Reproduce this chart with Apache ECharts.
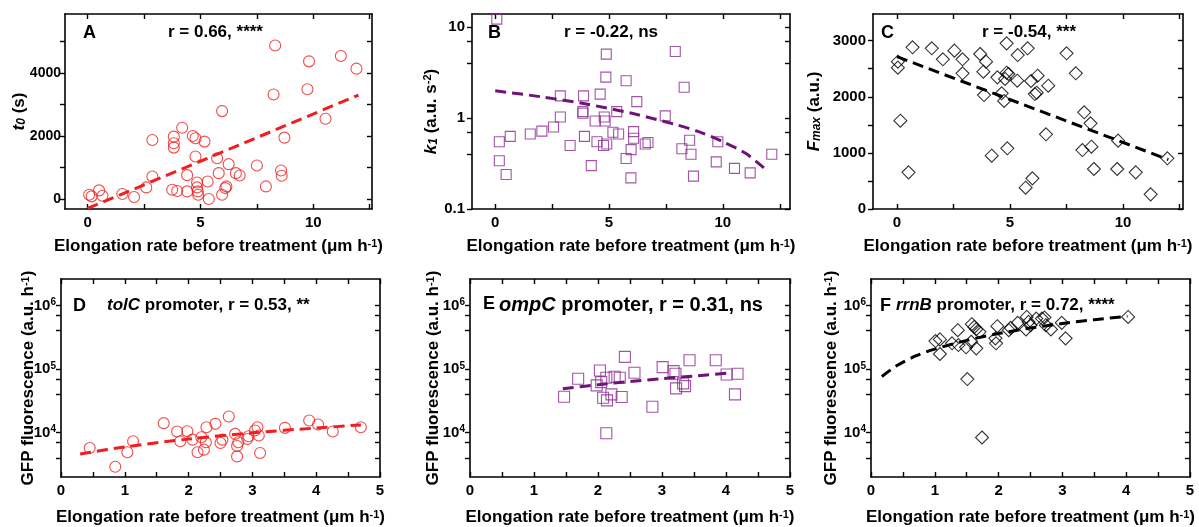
<!DOCTYPE html>
<html><head><meta charset="utf-8">
<script src="https://cdn.jsdelivr.net/npm/echarts@6/dist/echarts.min.js"></script>
<style>html,body{margin:0;padding:0;background:#fff}#c{width:1199px;height:527px}</style>
</head><body><div id="c"></div>
<script>
// ---------- DATA ----------
// Panel A: t0 (s) vs elongation rate
const aX = [0.07,0.18,0.51,0.66,1.54,2.06,2.6,2.87,2.87,3.75,3.82,3.82,3.82,3.97,4.19,4.41,4.41,4.66,4.78,4.78,4.85,4.85,4.88,4.9,5.18,5.32,5.37,5.74,5.81,5.96,5.96,6.1,6.15,6.25,6.57,6.74,7.5,7.9,8.24,8.31,8.57,8.6,8.72,9.74,9.81,10.54,11.22,11.91];
const aY = [137,84,274,105,158,63,368,716,1874,295,1980,1769,1632,253,2264,758,242,2000,1927,1348,526,368,242,137,1822,558,0,1295,821,2790,137,347,400,1106,821,748,1064,400,3317,4875,906,737,1948,3485,4370,2548,4538,4138];
const aFitX = [0, 12];
const aFitY = [-300, 3300];
// Panel B: k1 (a.u. s^-2)
const bX = [0.07,0.18,0.18,0.48,0.66,1.54,2.05,2.56,2.86,2.86,3.29,3.88,3.85,3.85,3.92,4.22,4.39,4.47,4.61,4.76,4.79,4.83,4.86,4.88,4.9,5.17,5.34,5.42,5.75,5.75,5.96,5.97,6.08,6.08,6.22,6.59,6.71,7.47,7.91,8.2,8.3,8.54,8.6,8.71,9.78,9.71,10.51,11.2,12.15];
const bY = [12.3,0.55,0.34,0.24,0.63,0.67,0.72,0.80,1.03,1.76,0.50,1.76,1.18,1.13,0.63,0.30,0.93,0.55,1.84,0.50,1.03,0.93,2.83,5.07,0.52,0.70,1.18,0.67,2.58,0.36,0.22,0.45,0.71,0.60,1.52,0.52,0.54,1.06,5.42,0.46,2.19,0.57,0.40,0.23,0.55,0.33,0.28,0.25,0.40];
const bFitX = [0, 2, 4, 6, 8, 9, 10, 11, 11.9];
const bFitY = [2.0, 1.72, 1.43, 1.13, 0.84, 0.70, 0.55, 0.41, 0.27];
// Panel C: Fmax (a.u.)
const cX = [0.04,0.04,0.15,0.51,0.69,1.54,2.03,2.54,2.9,2.9,3.68,3.82,3.94,3.85,4.19,4.44,4.63,4.74,4.78,4.85,4.85,4.88,4.93,5.34,5.32,5.69,5.78,5.93,5.99,6.1,6.18,6.22,6.59,6.69,7.5,7.91,8.2,8.28,8.56,8.6,8.71,9.74,9.78,10.56,11.22,11.96];
const cY = [2625,2519,1574,653,2881,2863,2667,2822,2667,2418,2762,2447,2625,2031,950,2346,2061,1925,2317,2429,2952,1081,2406,2744,2287,380,2863,2281,546,2049,2073,2376,1331,2198,2774,2418,1051,1723,1527,1111,713,713,1218,653,261,903];
const cFitX = [0, 12];
const cFitY = [2715, 880];
// Panel D: tolC promoter
const dX = [0.45,0.85,1.04,1.13,1.61,1.82,1.87,1.98,2.06,2.14,2.2,2.24,2.27,2.28,2.42,2.5,2.53,2.63,2.73,2.76,2.76,2.78,2.92,2.94,3.04,3.08,3.1,3.12,3.51,3.89,4.03,4.26,4.7];
const dY = [5720,2900,4890,7300,14050,10370,7300,10500,7740,4890,8440,5380,7040,12140,13710,6860,7740,17920,9530,6150,4220,7040,7940,8750,10760,12140,8970,4760,11850,15490,13390,10370,12140];
const dFitX = [0.3, 1, 2, 3, 4, 4.7];
const dFitY = [4600, 5950, 7900, 9900, 11800, 13200];
// Panel E: ompC promoter
const eX = [1.47,1.69,1.98,2.03,2.05,2.08,2.13,2.14,2.13,2.21,2.26,2.34,2.37,2.42,2.57,2.85,3.01,3.18,3.21,3.22,3.33,3.36,3.43,3.84,4.01,4.14,4.18];
const eY = [36600,70200,55200,94800,62200,35300,9770,32100,72800,39800,75400,72800,36200,155000,87100,25500,107000,92500,84000,49500,59300,53800,137000,137000,82000,39800,84000];
const eFitX = [1.45, 2, 2.5, 3, 3.5, 4.1];
const eFitY = [49000, 56500, 63500, 70500, 77500, 87000];
// Panel F: rrnB promoter
const fX = [1.01,1.08,1.08,1.27,1.36,1.37,1.49,1.51,1.57,1.58,1.62,1.65,1.65,1.7,1.74,1.95,1.96,1.98,2.16,2.19,2.3,2.43,2.44,2.47,2.5,2.59,2.68,2.72,2.74,2.82,2.99,3.05,4.03];
const fY = [275000,292000,172000,253000,407000,238000,219000,69500,268000,506000,459000,423000,211000,384000,8360,303000,253000,471000,407000,443000,531000,418000,658000,550000,488000,620000,620000,643000,488000,418000,531000,303000,658000];
const fFitX = [0.17, 0.4, 0.7, 1, 1.5, 2, 2.5, 3, 3.5, 4.02];
const fFitY = [76000, 112000, 160000, 205000, 282000, 360000, 440000, 518000, 595000, 675000];

// Tick label values
const topXLabels = [0, 5, 10];
const topXTicks = [0, 2.5, 5, 7.5, 10, 12.5];
const botXLabels = [0, 1, 2, 3, 4, 5];
const botXTicks = [0, 0.5, 1, 1.5, 2, 2.5, 3, 3.5, 4, 4.5, 5];
const aYLabels = [0, 2000, 4000];
const aYTicks = [0, 1000, 2000, 3000, 4000, 5000];
const bYLabels = [0.1, 1, 10];
const bYTicks = [0.1, 0.4, 0.7, 1, 4, 7, 10];
const cYLabels = [0, 1000, 2000, 3000];
const cYTicks = [0, 500, 1000, 1500, 2000, 2500, 3000];
const gfpYLabels = [1e4, 1e5, 1e6];
const gfpYTicks = [4000, 7000, 1e4, 40000, 70000, 1e5, 400000, 700000, 1e6];

// Text
const xName = 'Elongation rate before treatment (μm h{sup|-1})';
const panelTexts = [
  ['A', 'r = 0.66, ****'],
  ['B', 'r = -0.22, ns'],
  ['C', 'r = -0.54, ***'],
  ['D', '{it|tolC} promoter, r = 0.53, **'],
  ['E', '{it|ompC} promoter, r = 0.31, ns'],
  ['F', '{it|rrnB} promoter, r = 0.72, ****']
];
const yNames = [
  '{it|t}{isub|0} (s)',
  '{it|k}{isub|1} (a.u. s{sup|-2})',
  '{it|F}{isub|max} (a.u.)',
  'GFP fluorescence (a.u. h{sup|-1})',
  'GFP fluorescence (a.u. h{sup|-1})',
  'GFP fluorescence (a.u. h{sup|-1})'
];

// ---------- LAYOUT / STYLE ----------
const FONT = '"Liberation Sans", Arial, Helvetica, sans-serif';
const RED = '#f01e1e', PURPLE = '#8a2a8e', PURPLE_LINE = '#6e1478', BLACK = '#000';
function rich(size) {
  return {
    sup: {fontSize: Math.round(size * 0.65), fontWeight: 'bold', fontFamily: FONT, color: '#000', verticalAlign: 'top', padding: [0, 0, 6, 0]},
    isub: {fontSize: Math.round(size * 0.7), fontWeight: 'bold', fontStyle: 'italic', fontFamily: FONT, color: '#000', padding: [6, 0, 0, 0]},
    it: {fontSize: size, fontStyle: 'italic', fontWeight: 'bold', fontFamily: FONT, color: '#000'},
    b: {fontSize: size, fontWeight: 'bold', fontFamily: FONT, color: '#000'}
  };
}
const panels = [
  {grid: {left: 65, top: 14, width: 307, height: 195}, xMin: -1, xMax: 12.6, yType: 'value', yMin: -317, yMax: 5873,
   xLabels: topXLabels, xTicks: topXTicks, yLabels: aYLabels, yTicks: aYTicks, yGap: 37, yLabelSize: 14, yMargin: 4,
   xs: aX, ys: aY, fx: aFitX, fy: aFitY, color: RED, lineColor: RED, symbol: 'circle', size: 11, xGap: 29, titleSize: 17},
  {grid: {left: 472, top: 14, width: 318, height: 195}, xMin: -1.02, xMax: 12.95, yType: 'log', yMin: 0.1, yMax: 14,
   xLabels: topXLabels, xTicks: topXTicks, yLabels: bYLabels, yTicks: bYTicks, yGap: 32, yLabelSize: 15, yMargin: 7,
   xs: bX, ys: bY, fx: bFitX, fy: bFitY, color: PURPLE, lineColor: PURPLE_LINE, symbol: 'rect', size: 10, xGap: 29, titleSize: 17},
  {grid: {left: 873, top: 14, width: 310, height: 195}, xMin: -1.06, xMax: 12.65, yType: 'value', yMin: 0, yMax: 3475,
   xLabels: topXLabels, xTicks: topXTicks, yLabels: cYLabels, yTicks: cYTicks, yGap: 50, yLabelSize: 15, yMargin: 7,
   xs: cX, ys: cY, fx: cFitX, fy: cFitY, color: BLACK, lineColor: BLACK, symbol: 'diamond', size: 13, xGap: 29, titleSize: 17},
  {grid: {left: 61, top: 279, width: 319, height: 198}, xMin: 0, xMax: 5, yType: 'log', yMin: 2000, yMax: 2.6e6,
   xLabels: botXLabels, xTicks: botXTicks, yLabels: gfpYLabels, yTicks: gfpYTicks, yGap: 24, yLabelSize: 15, yMargin: 5,
   xs: dX, ys: dY, fx: dFitX, fy: dFitY, color: RED, lineColor: RED, symbol: 'circle', size: 11, xGap: 32, titleSize: 17},
  {grid: {left: 470, top: 279, width: 320, height: 198}, xMin: 0, xMax: 5, yType: 'log', yMin: 2000, yMax: 2.6e6,
   xLabels: botXLabels, xTicks: botXTicks, yLabels: gfpYLabels, yTicks: gfpYTicks, yGap: 28, yLabelSize: 15, yMargin: 5,
   xs: eX, ys: eY, fx: eFitX, fy: eFitY, color: PURPLE, lineColor: PURPLE_LINE, symbol: 'rect', size: 11, xGap: 32, titleSize: 20},
  {grid: {left: 871, top: 279, width: 319, height: 198}, xMin: 0, xMax: 5, yType: 'log', yMin: 2000, yMax: 2.6e6,
   xLabels: botXLabels, xTicks: botXTicks, yLabels: gfpYLabels, yTicks: gfpYTicks, yGap: 31, yLabelSize: 15, yMargin: 5,
   xs: fX, ys: fY, fx: fFitX, fy: fFitY, color: BLACK, lineColor: BLACK, symbol: 'diamond', size: 13, xGap: 32, titleSize: 17}
];
const textPos = [
  [78, 19, 163, 19], [483, 19, 559, 19], [876, 19, 977, 19],
  [68, 292, 102, 292], [478, 290, 494, 290], [875, 292, 891, 292]
];

const zip = (xs, ys) => xs.map((x, i) => [x, ys[i]]);
const axisLine = {onZero: false, lineStyle: {color: '#000', width: 1.6}};
const tickStyle = {color: '#000', width: 1.4};
const labelBase = {color: '#000', fontSize: 15, fontWeight: 'bold', fontFamily: FONT};

function yLabelFmt(v, kind) {
  if (kind === 'gfp') return '{b|10}{sup|' + Math.round(Math.log10(v)) + '}';
  return String(+Number(v).toPrecision(3));
}

const option = {
  animation: false,
  backgroundColor: '#fff',
  grid: [], xAxis: [], yAxis: [], series: [], title: []
};

panels.forEach((p, i) => {
  option.grid.push(Object.assign({containLabel: false}, p.grid));
  option.xAxis.push({
    type: 'value', gridIndex: i, min: p.xMin, max: p.xMax, position: 'bottom',
    axisLine, splitLine: {show: false},
    axisTick: {inside: true, length: 5, customValues: p.xTicks, lineStyle: tickStyle},
    axisLabel: Object.assign({customValues: p.xLabels, margin: 6, formatter: v => String(v)}, labelBase),
    name: xName, nameLocation: 'middle', nameGap: p.xGap, nameMoveOverlap: false,
    nameTextStyle: {fontSize: 17, fontWeight: 'bold', fontFamily: FONT, color: '#000', rich: rich(17)}
  });
  option.xAxis.push({
    type: 'value', gridIndex: i, min: p.xMin, max: p.xMax, position: 'top',
    axisLine, splitLine: {show: false},
    axisTick: {inside: true, length: 5, customValues: p.xTicks, lineStyle: tickStyle},
    axisLabel: {show: false}
  });
  const isLog = p.yType === 'log';
  const kind = i >= 3 ? 'gfp' : 'plain';
  const yLeft = {
    type: p.yType, gridIndex: i, min: p.yMin, max: p.yMax, position: 'left',
    axisLine, splitLine: {show: false},
    axisTick: {length: 5, customValues: p.yTicks, lineStyle: tickStyle},
    axisLabel: Object.assign({}, labelBase, {customValues: p.yLabels, margin: p.yMargin, fontSize: p.yLabelSize,
      formatter: v => yLabelFmt(v, kind), rich: rich(p.yLabelSize)}),
    name: yNames[i], nameLocation: 'middle', nameGap: p.yGap, nameMoveOverlap: false,
    nameTextStyle: {fontSize: 17, fontWeight: 'bold', fontFamily: FONT, color: '#000', rich: rich(17)}
  };
  const yRight = {
    type: p.yType, gridIndex: i, min: p.yMin, max: p.yMax, position: 'right',
    axisLine, splitLine: {show: false}, axisLabel: {show: false},
    axisTick: {inside: true, length: 5, customValues: p.yTicks, lineStyle: tickStyle}
  };
  if (isLog) { yLeft.logBase = 10; yRight.logBase = 10; }
  option.yAxis.push(yLeft, yRight);

  option.series.push({
    type: 'scatter', xAxisIndex: 2 * i, yAxisIndex: 2 * i,
    data: zip(p.xs, p.ys), symbol: p.symbol, symbolSize: p.size,
    itemStyle: {color: 'rgba(0,0,0,0)', borderColor: p.color, borderWidth: 1.1},
    z: 3
  });
  option.series.push({
    type: 'line', xAxisIndex: 2 * i, yAxisIndex: 2 * i,
    data: zip(p.fx, p.fy), showSymbol: false, symbol: 'none', smooth: isLog ? 0.3 : false,
    lineStyle: {color: p.lineColor, width: 3, type: [11, 6]},
    z: 4
  });

  const tp = textPos[i];
  option.title.push({
    text: panelTexts[i][0], left: tp[0], top: tp[1],
    textStyle: {fontSize: 18, fontWeight: 'bold', fontFamily: FONT, color: '#000'}
  });
  option.title.push({
    text: panelTexts[i][1], left: tp[2], top: tp[3],
    textStyle: {fontSize: p.titleSize, fontWeight: 'bold', fontFamily: FONT, color: '#000', rich: rich(p.titleSize)}
  });
});

const chart = echarts.init(document.getElementById('c'), null, {renderer: 'canvas'});
chart.setOption(option);
</script>
</body></html>
